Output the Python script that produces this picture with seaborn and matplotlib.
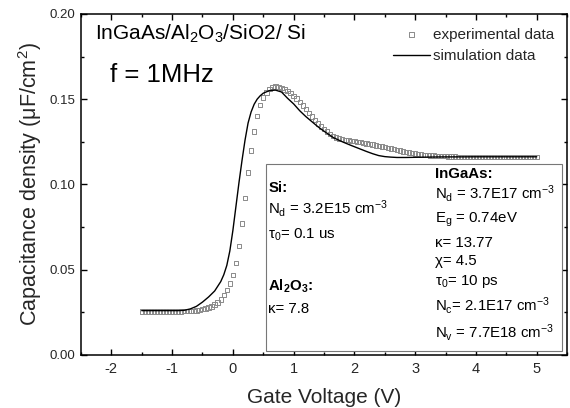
import numpy as np
import pandas as pd
import matplotlib
matplotlib.use("Agg")
import matplotlib.pyplot as plt
import seaborn as sns
from matplotlib.ticker import MultipleLocator, FormatStrFormatter
from matplotlib.patches import Rectangle

# ---------------- data ----------------
exp_v = [-1.50, -1.45, -1.40, -1.35, -1.30, -1.25, -1.20, -1.15, -1.10, -1.05,
         -1.00, -0.95, -0.90, -0.85, -0.80, -0.75, -0.70, -0.65, -0.60, -0.55,
         -0.50, -0.45, -0.40, -0.35, -0.30, -0.25, -0.20, -0.15, -0.10, -0.05,
         0.00, 0.05, 0.10, 0.15, 0.20, 0.25, 0.30, 0.35, 0.40, 0.45,
         0.50, 0.55, 0.60, 0.65, 0.70, 0.75, 0.80, 0.85, 0.90, 0.95,
         1.00, 1.05, 1.10, 1.15, 1.20, 1.25, 1.30, 1.35, 1.40, 1.45,
         1.50, 1.55, 1.60, 1.65, 1.70, 1.75, 1.80, 1.85, 1.90, 1.95,
         2.00, 2.05, 2.10, 2.15, 2.20, 2.25, 2.30, 2.35, 2.40, 2.45,
         2.50, 2.55, 2.60, 2.65, 2.70, 2.75, 2.80, 2.85, 2.90, 2.95,
         3.00, 3.05, 3.10, 3.15, 3.20, 3.25, 3.30, 3.35, 3.40, 3.45,
         3.50, 3.55, 3.60, 3.65, 3.70, 3.75, 3.80, 3.85, 3.90, 3.95,
         4.00, 4.05, 4.10, 4.15, 4.20, 4.25, 4.30, 4.35, 4.40, 4.45,
         4.50, 4.55, 4.60, 4.65, 4.70, 4.75, 4.80, 4.85, 4.90, 4.95,
         5.00]
exp_c = [0.0255, 0.0255, 0.0255, 0.0255, 0.0255, 0.0255, 0.0255, 0.0255, 0.0255, 0.0255,
         0.0255, 0.0255, 0.0255, 0.0255, 0.0256, 0.0256, 0.0257, 0.0258, 0.0260, 0.0264,
         0.0268, 0.0273, 0.0278, 0.0285, 0.0295, 0.0308, 0.0325, 0.0350, 0.0380, 0.0420,
         0.0470, 0.0540, 0.0640, 0.0770, 0.0920, 0.1070, 0.1200, 0.1310, 0.1400, 0.1465,
         0.1510, 0.1540, 0.1560, 0.1570, 0.1574, 0.1572, 0.1566, 0.1557, 0.1547, 0.1535,
         0.1520, 0.1503, 0.1484, 0.1463, 0.1442, 0.1420, 0.1398, 0.1378, 0.1358, 0.1340,
         0.1325, 0.1310, 0.1295, 0.1283, 0.1275, 0.1269, 0.1265, 0.1262, 0.1259, 0.1256,
         0.1253, 0.1250, 0.1247, 0.1244, 0.1241, 0.1237, 0.1233, 0.1229, 0.1226, 0.1222,
         0.1218, 0.1214, 0.1210, 0.1206, 0.1202, 0.1198, 0.1194, 0.1190, 0.1187, 0.1184,
         0.1181, 0.1178, 0.1176, 0.1174, 0.1172, 0.1170, 0.1169, 0.1168, 0.1167, 0.1166,
         0.1165, 0.1164, 0.1163, 0.1163, 0.1162, 0.1162, 0.1161, 0.1161, 0.1161, 0.1160,
         0.1160, 0.1160, 0.1160, 0.1160, 0.1160, 0.1160, 0.1160, 0.1160, 0.1160, 0.1160,
         0.1160, 0.1160, 0.1160, 0.1160, 0.1160, 0.1160, 0.1160, 0.1160, 0.1160, 0.1160,
         0.1160]

sim_v = [-1.5, -1.2, -0.9, -0.8, -0.7, -0.6, -0.5, -0.4, -0.3, -0.2,
         -0.15, -0.1, -0.05, 0.0, 0.05, 0.1, 0.15, 0.2, 0.25, 0.3,
         0.35, 0.4, 0.45, 0.5, 0.6, 0.7, 0.8, 0.9, 1.0, 1.1,
         1.2, 1.3, 1.4, 1.5, 1.65, 1.8, 1.95, 2.1, 2.2, 2.3,
         2.4, 2.5, 2.6, 2.7, 2.85, 3.0, 3.4, 4.0, 4.5, 5.0]
sim_c = [0.0260, 0.0260, 0.0260, 0.0262, 0.0270, 0.0285, 0.0310, 0.0340, 0.0375, 0.0430,
         0.0470, 0.0525, 0.0610, 0.0730, 0.0870, 0.1010, 0.1140, 0.1260, 0.1360, 0.1425,
         0.1470, 0.1500, 0.1520, 0.1535, 0.1550, 0.1553, 0.1542, 0.1505, 0.1472, 0.1432,
         0.1398, 0.1368, 0.1338, 0.1312, 0.1275, 0.1250, 0.1228, 0.1207, 0.1193, 0.1180,
         0.1169, 0.1163, 0.1160, 0.1158, 0.1158, 0.1159, 0.1161, 0.1162, 0.1162, 0.1162]

exp_label = "experimental data"
sim_label = "simulation data"

x_ticks = [-2, -1, 0, 1, 2, 3, 4, 5]
y_ticks = [0.00, 0.05, 0.10, 0.15, 0.20]

# ---------------- style ----------------
sns.set_theme(style="ticks")
plt.rcParams["font.family"] = ["Liberation Sans", "DejaVu Sans"]
plt.rcParams["mathtext.fontset"] = "custom"
plt.rcParams["mathtext.rm"] = "Liberation Sans"
plt.rcParams["mathtext.it"] = "Liberation Sans:italic"
plt.rcParams["mathtext.bf"] = "Liberation Sans:bold"
plt.rcParams["axes.linewidth"] = 1.1
plt.rcParams["axes.unicode_minus"] = False

fig = plt.figure(figsize=(5.7, 4.08), dpi=100)
ax = fig.add_axes([0.142, 0.130, 0.853, 0.836])

exp_df = pd.DataFrame({"v": exp_v, "c": exp_c})
sim_df = pd.DataFrame({"v": sim_v, "c": sim_c})

sns.scatterplot(data=exp_df, x="v", y="c", marker="s", s=10,
                facecolors="none", edgecolor="#8a8a8a", linewidth=0.7,
                ax=ax, label=exp_label, zorder=2)
sns.lineplot(data=sim_df, x="v", y="c", color="black", linewidth=1.0,
             ax=ax, label=sim_label, zorder=3)

ax.set_xlim(-2.5, 5.5)
ax.set_ylim(0, 0.20)
ax.set_xticks(x_ticks)
ax.set_yticks(y_ticks)
ax.xaxis.set_minor_locator(MultipleLocator(0.5))
ax.yaxis.set_minor_locator(MultipleLocator(0.025))
ax.yaxis.set_major_formatter(FormatStrFormatter("%.2f"))
ax.tick_params(which="both", direction="in", top=True, right=True,
               color="black", width=1.0)
ax.tick_params(which="major", length=4.5)
ax.tick_params(which="minor", length=2.5)
ax.tick_params(axis="x", labelsize=10.5, pad=5)
ax.tick_params(axis="y", labelsize=9.5, pad=4)
for sp in ax.spines.values():
    sp.set_color("black")

ax.set_xlabel("Gate Voltage (V)", fontsize=15, labelpad=9)
ax.set_ylabel("Capacitance density (\u03bcF/cm$^2$)", fontsize=15.5, labelpad=4)

leg = ax.legend(loc="upper left", bbox_to_anchor=(0.642, 0.960), frameon=False,
                fontsize=11, handlelength=2.4, handletextpad=0.2,
                borderpad=0, borderaxespad=0, labelspacing=0.5)

ax.text(-2.27, 0.188, "InGaAs/Al$_2$O$_3$/SiO2/ Si", fontsize=15,
        va="center", ha="left", color="black")
ax.text(-2.02, 0.164, "f = 1MHz", fontsize=18.5, va="center", ha="left",
        color="black")

# parameter box
box = Rectangle((0.381, 0.012), 0.609, 0.548, transform=ax.transAxes,
                facecolor="white", edgecolor="#777777", linewidth=0.8, zorder=4)
ax.add_patch(box)

def px2y(py):
    return (355 - py) / 1705.0

lx = 0.583
rx = 3.327
fs = 10.8
left_items = [
    ("Si:", 191.7, True),
    ("N$_\\mathrm{d}$ = 3.2E15 cm$^{-3}$", 214, False),
    ("\u03c4$_\\mathrm{0}$= 0.1 us", 239, False),
    ("Al$_\\mathbf{2}$O$_\\mathbf{3}$:", 290.7, True),
    ("\u03ba= 7.8", 313, False),
]
right_items = [
    ("InGaAs:", 178.3, True),
    ("N$_\\mathrm{d}$ = 3.7E17 cm$^{-3}$", 199, False),
    ("E$_\\mathrm{g}$ = 0.74eV", 223, False),
    ("\u03ba= 13.77", 247, False),
    ("\u03c7= 4.5", 265, False),
    ("\u03c4$_\\mathrm{0}$= 10 ps", 285, False),
    ("N$_\\mathrm{c}$= 2.1E17 cm$^{-3}$", 310.7, False),
    ("N$_\\mathrm{v}$ = 7.7E18 cm$^{-3}$", 338, False),
]
for xx, items in ((lx, left_items), (rx, right_items)):
    for txt, py, bold in items:
        ax.text(xx, px2y(py), txt, fontsize=fs, ha="left", va="baseline",
                fontweight="bold" if bold else "normal", color="black", zorder=5)

fig.savefig("out.png", dpi=100)
